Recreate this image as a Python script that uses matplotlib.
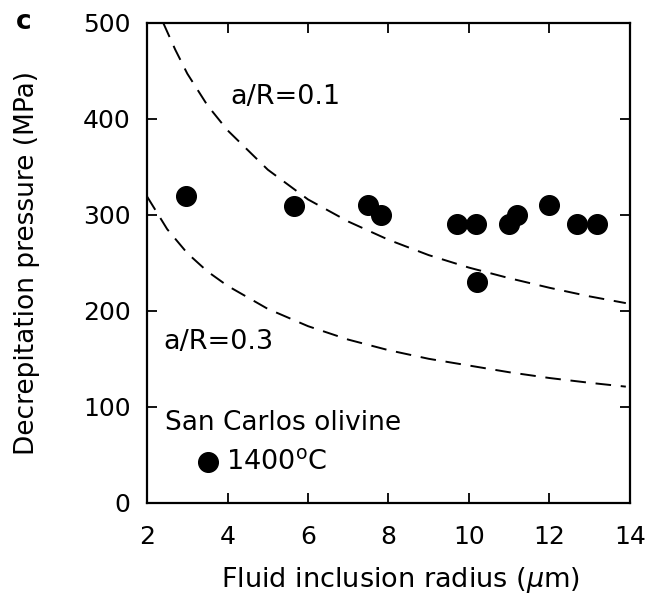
import matplotlib.pyplot as plt

plt.rcParams['font.family'] = ['DejaVu Sans']

# measured decrepitation data (San Carlos olivine, 1400 C)
radius = [2.97, 5.65, 7.49, 7.81, 9.70, 10.17, 10.20, 11.00, 11.20, 12.00, 12.68, 13.18]
pressure = [320, 309, 310, 300, 290, 290, 230, 290, 300, 310, 290, 290]

# dashed model curves
r_01 = [2.4, 2.7, 3.0, 3.5, 4.0, 5.0, 6.0, 7.0, 8.0, 9.0, 10.0, 11.0, 12.0, 13.0, 13.9]
p_01 = [500, 472, 447, 414, 388, 347, 316, 293, 274, 258, 245, 234, 224, 215, 208]
r_03 = [2.0, 2.5, 3.0, 3.5, 4.0, 5.0, 6.0, 7.0, 8.0, 9.0, 10.0, 11.0, 12.0, 13.0, 13.9]
p_03 = [319, 285, 260, 241, 226, 202, 184, 170, 159, 150, 143, 136, 130, 125, 121]

fig = plt.figure(figsize=(6.48, 6.0), dpi=100)
ax = fig.add_axes([0.227, 0.162, 0.745, 0.800])

ax.plot(r_01, p_01, color='black', lw=1.4, dashes=(8, 5))
ax.plot(r_03, p_03, color='black', lw=1.4, dashes=(8, 5))
ax.scatter(radius, pressure, s=200, color='black', zorder=3, clip_on=False)

ax.text(4.06, 423, 'a/R=0.1', fontsize=19.5, va='center', ha='left')
ax.text(2.4, 168, 'a/R=0.3', fontsize=19.5, va='center', ha='left')
ax.text(2.45, 83, 'San Carlos olivine', fontsize=19, va='center', ha='left')
ax.scatter([3.52], [42], s=200, color='black', zorder=3)
ax.text(3.95, 42, '1400$^{\\mathrm{o}}$C', fontsize=19.5, va='center', ha='left')

ax.set_xlim(2, 14)
ax.set_ylim(0, 500)
ax.set_xticks([2, 4, 6, 8, 10, 12, 14])
ax.set_yticks([0, 100, 200, 300, 400, 500])
ax.tick_params(direction='in', length=7, width=1.3, labelsize=18,
               top=True, right=True)
ax.tick_params(axis='x', pad=16)
ax.tick_params(axis='y', pad=12)
for s in ax.spines.values():
    s.set_linewidth(1.6)

ax.set_xlabel('Fluid inclusion radius ($\\mu$m)', fontsize=19.5)
ax.set_ylabel('Decrepitation pressure (MPa)', fontsize=19)
ax.xaxis.set_label_coords(0.524, -0.13)
ax.yaxis.set_label_coords(-0.222, 0.5)

fig.text(0.036, 0.963, 'c', fontsize=19, fontweight='bold', ha='center', va='center')

fig.savefig('out.png', dpi=100)
